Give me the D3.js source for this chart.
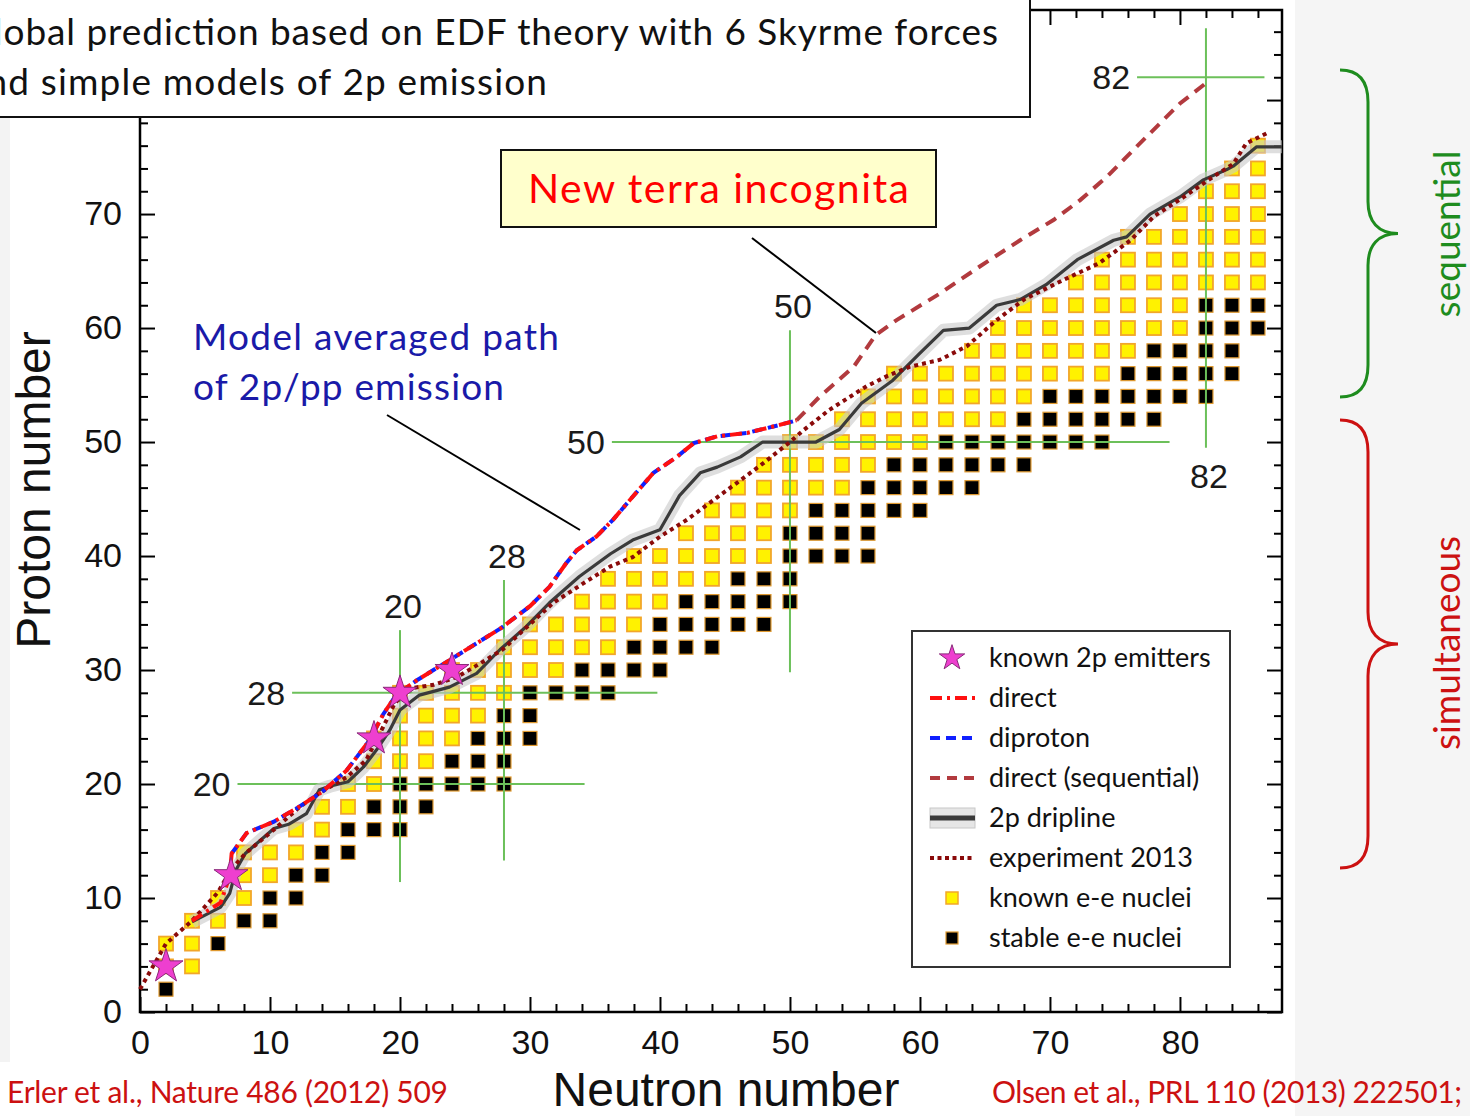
<!DOCTYPE html>
<html>
<head>
<meta charset="utf-8">
<script src="https://cdn.jsdelivr.net/npm/d3@7"></script>
<style>
body { margin: 0; background: #fff; }
svg { display: block; }
</style>
</head>
<body>
<svg id="chart" width="1470" height="1116"></svg>
<script>
// even-even nuclei: [Z, first N, last N]
var knownNuclei = [
    [4, 2, 4], [6, 2, 4], [8, 4, 6], [10, 6, 8], [12, 8, 10], [14, 8, 12],
    [16, 12, 14], [18, 14, 16], [20, 16, 18], [22, 18, 22], [24, 18, 24],
    [26, 20, 26], [28, 20, 28], [30, 24, 32], [32, 28, 36], [34, 30, 38],
    [36, 34, 40], [38, 36, 44], [40, 38, 48], [42, 42, 48], [44, 44, 50],
    [46, 46, 54], [48, 48, 56], [50, 50, 60], [52, 54, 66], [54, 56, 68],
    [56, 58, 74], [58, 64, 76], [60, 66, 80], [62, 68, 80], [64, 72, 86],
    [66, 74, 86], [68, 76, 86], [70, 80, 86], [72, 82, 86], [74, 84, 86],
    [76, 86, 86]
];
var stableNuclei = [
    [2, 2, 2], [6, 6, 6], [8, 8, 10], [10, 10, 12], [12, 12, 14], [14, 14, 16],
    [16, 16, 20], [18, 18, 22], [20, 20, 28], [22, 24, 28], [24, 26, 30],
    [26, 28, 30], [28, 30, 36], [30, 34, 40], [32, 38, 44], [34, 40, 48],
    [36, 42, 50], [38, 46, 50], [40, 50, 56], [42, 50, 56], [44, 52, 60],
    [46, 56, 64], [48, 58, 68], [50, 62, 74], [52, 68, 78], [54, 70, 82],
    [56, 76, 84], [58, 78, 84], [60, 82, 86], [62, 82, 86]
];

// known 2p emitters [N, Z]
var emitters = [[2, 4], [7, 12], [18, 24], [20, 28], [24, 30]];

// paths [N, Z]
var directPath = [[4, 8], [6.2, 9.6], [6.9, 11.9], [7.05, 13.9], [8.2, 15.7], [10.3, 16.7],
    [12.1, 17.9], [14, 19.3], [15.9, 21.2], [17.7, 23.9], [18.7, 26.1], [19.7, 27.8],
    [21.3, 29.1], [24, 31], [27.8, 33.7], [30, 35.6], [31.5, 37.3], [32.8, 39.4],
    [33.6, 40.5], [35.1, 41.7], [36.4, 43.2], [37.9, 45.2], [39.5, 47.3], [41.3, 48.7],
    [42.6, 49.9], [44.4, 50.5], [46.7, 50.8], [49.2, 51.5], [50.5, 51.9]];
var diprotonPath = [[7.05, 13.9], [8.2, 15.7], [10.3, 16.7], [12.1, 17.9], [14, 19.3],
    [15.9, 21.2], [17.7, 23.9], [18.7, 26.1], [19.7, 27.8], [21.3, 29.1], [24, 31],
    [27.8, 33.7], [30, 35.6], [31.5, 37.3], [32.8, 39.4], [33.6, 40.5], [35.1, 41.7],
    [36.4, 43.2], [37.9, 45.2], [39.5, 47.3], [41.3, 48.7], [42.6, 49.9], [44.4, 50.5],
    [46.7, 50.8], [49.2, 51.5], [50.5, 51.9]];
var sequentialPath = [[50.5, 51.9], [52.3, 54], [54.9, 56.6], [56.6, 59.4], [58.2, 60.7],
    [61.5, 63], [64.6, 65.4], [67.7, 67.7], [70.3, 69.5], [72.3, 71.2], [74.4, 73.3],
    [76.4, 75.6], [78.5, 78], [80, 79.7], [82.3, 81.75]];
var experimentPath = [[0, 2], [2, 6], [4, 8], [6, 10.5], [7, 12.5], [8.1, 13.9], [10.3, 16],
    [12.3, 18], [13.8, 19.2], [15.9, 20.6], [17.4, 22.1], [18.7, 25], [19.6, 27.1],
    [20.8, 28.4], [22.6, 28.7], [24.4, 29.4], [26.2, 30.6], [27.9, 31.8], [29.5, 33.5],
    [31.8, 35.9], [34.1, 37.6], [36.2, 39.1], [37.9, 39.9], [40, 41.7], [42.1, 43.2],
    [44.1, 44.9], [45.9, 46.4], [47.9, 48.1], [50, 50], [51, 51], [53, 52.8],
    [55.9, 54.9], [57.5, 55.8], [59.2, 56.6], [61.5, 57.2], [63.6, 58.4], [65.9, 60.7],
    [68, 62.5], [71, 64.2], [73.8, 65.7], [76.2, 67.7], [78, 69.8], [80.3, 71.5],
    [82.6, 73.3], [84.1, 74.4], [85.1, 76.2], [86.7, 77.1]];
var driplinePath = [[4, 7.9], [6.2, 9.2], [6.9, 10.4], [7.4, 12.5], [8.1, 13.9], [10.3, 16.1],
    [11.5, 16.5], [12.8, 17.4], [13.8, 19.5], [14.6, 19.8], [16, 20.2], [17.2, 21.5],
    [18.2, 23], [19.2, 24.7], [20, 26.5], [21.5, 27.8], [23.8, 28.5], [25.9, 29.7],
    [27.7, 31.8], [29.7, 33.8], [31.5, 35.9], [33.8, 38.2], [36.2, 40.2], [37.9, 41.4],
    [40, 42.3], [41.5, 45.3], [43.1, 47.3], [44.4, 47.8], [46.2, 48.7], [47.9, 50],
    [52, 50], [53.8, 51.1], [55.5, 53.4], [57.9, 55.4], [60, 57.8], [61.8, 59.8],
    [63.8, 60], [65.9, 62], [67.7, 62.5], [69.7, 63.8], [72.1, 66], [74.9, 67.7],
    [75.9, 68], [77.7, 70], [80, 71.5], [81.8, 73], [83.6, 73.9], [84.1, 74.2],
    [85.9, 75.9], [87.85, 75.9]];

// magic numbers: vertical [N, Zlow, Zhigh], horizontal [Z, Nlow, Nhigh]
var magicN = [[20, 11.4, 33.5], [28, 13.3, 37.9], [50, 29.8, 59.8], [82, 49.5, 86.3]];
var magicZ = [[20, 7.5, 34.2], [28, 11.7, 39.8], [50, 36.3, 79.2], [82, 76.7, 86.5]];

var majorTicks = [0, 10, 20, 30, 40, 50, 60, 70, 80];
var minorTicks = d3.range(0, 88, 2).filter(function (v) { return v % 10 !== 0; });

var legendLabels = ["known 2p emitters", "direct", "diproton", "direct (sequential)",
    "2p dripline", "experiment 2013", "known e-e nuclei", "stable e-e nuclei"];

var svg = d3.select("#chart");
var x = d3.scaleLinear().domain([0, 87.85]).range([140, 1282]);
var y = d3.scaleLinear().domain([0, 87.9]).range([1012, 10]);
var numFont = "'Liberation Sans', Arial, sans-serif";
var textFont = "Lato, 'Open Sans', sans-serif";

// page background pieces
svg.append("rect").attr("x", 1295).attr("y", 0).attr("width", 175).attr("height", 1116).attr("fill", "#f5f5f5");
svg.append("rect").attr("x", 0).attr("y", 117).attr("width", 10).attr("height", 945).attr("fill", "#f3f3f3");

// axes with inward ticks on all sides
function styleAxis(g) {
    g.select(".domain").remove();
    g.selectAll(".tick line").attr("stroke", "#000").attr("stroke-width", 2);
    g.selectAll("text").attr("font-family", numFont).attr("font-size", 34).attr("fill", "#111");
}
svg.append("g").attr("transform", "translate(140,0)")
    .call(d3.axisLeft(y).tickValues(majorTicks).tickSize(-15).tickPadding(18)).call(styleAxis);
svg.append("g").attr("transform", "translate(140,0)")
    .call(d3.axisLeft(y).tickValues(minorTicks).tickSize(-8).tickFormat("")).call(styleAxis);
svg.append("g").attr("transform", "translate(1282,0)")
    .call(d3.axisRight(y).tickValues(majorTicks).tickSize(-15).tickFormat("")).call(styleAxis);
svg.append("g").attr("transform", "translate(1282,0)")
    .call(d3.axisRight(y).tickValues(minorTicks).tickSize(-8).tickFormat("")).call(styleAxis);
svg.append("g").attr("transform", "translate(0,1012)")
    .call(d3.axisBottom(x).tickValues(majorTicks).tickSize(-15).tickPadding(18)).call(styleAxis);
svg.append("g").attr("transform", "translate(0,1012)")
    .call(d3.axisBottom(x).tickValues(minorTicks).tickSize(-8).tickFormat("")).call(styleAxis);
svg.append("g").attr("transform", "translate(0,10)")
    .call(d3.axisTop(x).tickValues(majorTicks).tickSize(-15).tickFormat("")).call(styleAxis);
svg.append("g").attr("transform", "translate(0,10)")
    .call(d3.axisTop(x).tickValues(minorTicks).tickSize(-8).tickFormat("")).call(styleAxis);

svg.append("rect").attr("x", 140).attr("y", 10).attr("width", 1142).attr("height", 1002)
    .attr("fill", "none").attr("stroke", "#000").attr("stroke-width", 2.5);

// nuclei squares
function expand(rows) {
    var out = [];
    rows.forEach(function (r) {
        for (var n = r[1]; n <= r[2]; n += 2) out.push([n, r[0]]);
    });
    return out;
}
var sq = 14;
svg.append("g").selectAll("rect").data(expand(knownNuclei)).join("rect")
    .attr("x", function (d) { return x(d[0]) - sq / 2; })
    .attr("y", function (d) { return y(d[1]) - sq / 2; })
    .attr("width", sq).attr("height", sq)
    .attr("fill", "#fff200").attr("stroke", "#f2a62a").attr("stroke-width", 1.8);
svg.append("g").selectAll("rect").data(expand(stableNuclei)).join("rect")
    .attr("x", function (d) { return x(d[0]) - sq / 2; })
    .attr("y", function (d) { return y(d[1]) - sq / 2; })
    .attr("width", sq).attr("height", sq)
    .attr("fill", "#000").attr("stroke", "#e09a30").attr("stroke-width", 1.2);

// magic number guide lines
var green = "#6cc05a";
svg.append("g").selectAll("line").data(magicN).join("line")
    .attr("x1", function (d) { return x(d[0]); }).attr("x2", function (d) { return x(d[0]); })
    .attr("y1", function (d) { return y(d[1]); }).attr("y2", function (d) { return y(d[2]); })
    .attr("stroke", green).attr("stroke-width", 2);
svg.append("g").selectAll("line").data(magicZ).join("line")
    .attr("y1", function (d) { return y(d[0]); }).attr("y2", function (d) { return y(d[0]); })
    .attr("x1", function (d) { return x(d[1]); }).attr("x2", function (d) { return x(d[2]); })
    .attr("stroke", green).attr("stroke-width", 2);

var magicLabels = svg.append("g").attr("font-family", numFont).attr("font-size", 34).attr("fill", "#1a1a1a");
magicZ.forEach(function (d) {
    magicLabels.append("text").attr("x", x(d[1]) - 7).attr("y", y(d[0]) + 12)
        .attr("text-anchor", "end").text(d[0]);
});
magicN.forEach(function (d) {
    var below = d[0] === 82;
    magicLabels.append("text").attr("x", x(d[0]) + 3)
        .attr("y", below ? y(d[1]) + 40 : y(d[2]) - 12)
        .attr("text-anchor", "middle").text(d[0]);
});

// model lines
var line = d3.line().x(function (d) { return x(d[0]); }).y(function (d) { return y(d[1]); });
svg.append("path").attr("d", line(driplinePath)).attr("fill", "none")
    .attr("stroke", "#c8c8c8").attr("stroke-opacity", 0.6).attr("stroke-width", 13)
    .attr("stroke-linejoin", "round");
svg.append("path").attr("d", line(driplinePath)).attr("fill", "none")
    .attr("stroke", "#3a3a3a").attr("stroke-width", 3.2).attr("stroke-linejoin", "round");
svg.append("path").attr("d", line(experimentPath)).attr("fill", "none")
    .attr("stroke", "#8a0a0a").attr("stroke-width", 4).attr("stroke-dasharray", "4,4");
svg.append("path").attr("d", line(diprotonPath)).attr("fill", "none")
    .attr("stroke", "#1020ff").attr("stroke-width", 4).attr("stroke-dasharray", "10,6");
svg.append("path").attr("d", line(directPath)).attr("fill", "none")
    .attr("stroke", "#ff1010").attr("stroke-width", 4).attr("stroke-dasharray", "12,5,3,5");
svg.append("path").attr("d", line(sequentialPath)).attr("fill", "none")
    .attr("stroke", "#b23a3e").attr("stroke-width", 4).attr("stroke-dasharray", "12,8");

// known 2p emitters
var star = d3.symbol().type(d3.symbolStar).size(360);
svg.append("g").selectAll("path").data(emitters).join("path")
    .attr("d", star)
    .attr("transform", function (d) { return "translate(" + x(d[0]) + "," + y(d[1]) + ")"; })
    .attr("fill", "#ee3fcf").attr("stroke", "#8a2a7a").attr("stroke-width", 1);

// legend
var lg = svg.append("g");
lg.append("rect").attr("x", 912).attr("y", 631).attr("width", 318).attr("height", 336)
    .attr("fill", "#fff").attr("stroke", "#333").attr("stroke-width", 2);
var ly = d3.scalePoint().domain(legendLabels).range([658, 938]);
lg.selectAll("text").data(legendLabels).join("text")
    .attr("x", 989).attr("y", function (d) { return ly(d) + 9; })
    .attr("font-family", textFont).attr("font-size", 27).attr("fill", "#111")
    .text(function (d) { return d; });
var lx1 = 930, lx2 = 975;
lg.append("path").attr("d", d3.symbol().type(d3.symbolStar).size(200))
    .attr("transform", "translate(952," + ly(legendLabels[0]) + ")")
    .attr("fill", "#ee3fcf").attr("stroke", "#8a2a7a");
function legendLine(label, color, dash, w) {
    lg.append("line").attr("x1", lx1).attr("x2", lx2)
        .attr("y1", ly(label)).attr("y2", ly(label))
        .attr("stroke", color).attr("stroke-width", w).attr("stroke-dasharray", dash);
}
legendLine(legendLabels[1], "#ff1010", "12,5,3,5", 4);
legendLine(legendLabels[2], "#1020ff", "10,6", 4);
legendLine(legendLabels[3], "#b23a3e", "10,7", 4);
lg.append("rect").attr("x", lx1).attr("y", ly(legendLabels[4]) - 10).attr("width", lx2 - lx1).attr("height", 20)
    .attr("fill", "#e6e6e6").attr("stroke", "#c8c8c8");
legendLine(legendLabels[4], "#3a3a3a", null, 5);
legendLine(legendLabels[5], "#8a0a0a", "4,3.5", 4);
lg.append("rect").attr("x", 946).attr("y", ly(legendLabels[6]) - 6).attr("width", 12).attr("height", 12)
    .attr("fill", "#fff200").attr("stroke", "#f2a62a").attr("stroke-width", 1.5);
lg.append("rect").attr("x", 946).attr("y", ly(legendLabels[7]) - 6).attr("width", 12).attr("height", 12)
    .attr("fill", "#000").attr("stroke", "#e09a30").attr("stroke-width", 1.2);

// axis titles
svg.append("text").attr("x", 726).attr("y", 1106).attr("text-anchor", "middle")
    .attr("font-family", numFont).attr("font-size", 48).attr("fill", "#111").text("Neutron number");
svg.append("text").attr("transform", "translate(50,490) rotate(-90)").attr("text-anchor", "middle")
    .attr("font-family", numFont).attr("font-size", 48).attr("fill", "#111").text("Proton number");

// annotations
svg.append("rect").attr("x", -5).attr("y", -5).attr("width", 1035).attr("height", 122)
    .attr("fill", "#fff").attr("stroke", "#111").attr("stroke-width", 2);
var note = svg.append("g").attr("font-family", textFont).attr("font-size", 37).attr("fill", "#111");
note.append("text").attr("x", -34).attr("y", 45).attr("textLength", 1032)
    .text("Global prediction based on EDF theory with 6 Skyrme forces");
note.append("text").attr("x", -33).attr("y", 95).attr("textLength", 580)
    .text("and simple models of 2p emission");

svg.append("line").attr("x1", 387).attr("y1", 415).attr("x2", 580).attr("y2", 530)
    .attr("stroke", "#000").attr("stroke-width", 2);
svg.append("line").attr("x1", 752).attr("y1", 238).attr("x2", 876).attr("y2", 333)
    .attr("stroke", "#000").attr("stroke-width", 2);

var blueNote = svg.append("g").attr("font-family", textFont).attr("font-size", 37).attr("fill", "#1a1aa8");
blueNote.append("text").attr("x", 193).attr("y", 350).attr("textLength", 366).text("Model averaged path");
blueNote.append("text").attr("x", 193).attr("y", 400).attr("textLength", 311).text("of 2p/pp emission");

svg.append("rect").attr("x", 501).attr("y", 150).attr("width", 435).attr("height", 77)
    .attr("fill", "#ffffcc").attr("stroke", "#111").attr("stroke-width", 2);
svg.append("text").attr("x", 528).attr("y", 203).attr("textLength", 381)
    .attr("font-family", textFont).attr("font-size", 41).attr("fill", "#ff0000").text("New terra incognita");

// braces on the right
function brace(top, bottom, color) {
    var mid = (top + bottom) / 2;
    var p = d3.path();
    p.moveTo(1340, top);
    p.bezierCurveTo(1360, top, 1368, top + 12, 1368, top + 32);
    p.lineTo(1368, mid - 32);
    p.bezierCurveTo(1368, mid - 12, 1378, mid, 1398, mid);
    p.bezierCurveTo(1378, mid, 1368, mid + 12, 1368, mid + 32);
    p.lineTo(1368, bottom - 32);
    p.bezierCurveTo(1368, bottom - 12, 1360, bottom, 1340, bottom);
    svg.append("path").attr("d", p.toString()).attr("fill", "none")
        .attr("stroke", color).attr("stroke-width", 3);
}
brace(70, 397, "#1e8c1e");
brace(420, 868, "#cc1111");
svg.append("text").attr("transform", "translate(1460,234) rotate(-90)").attr("text-anchor", "middle")
    .attr("font-family", textFont).attr("font-size", 37).attr("fill", "#1e8c1e").text("sequential");
svg.append("text").attr("transform", "translate(1460,643) rotate(-90)").attr("text-anchor", "middle")
    .attr("font-family", textFont).attr("font-size", 37).attr("fill", "#cc1111").text("simultaneous");

// references
var refs = svg.append("g").attr("font-family", textFont).attr("font-size", 30).attr("fill", "#cc1111");
refs.append("text").attr("x", 7).attr("y", 1103).attr("textLength", 441).text("Erler et al., Nature 486 (2012) 509");
refs.append("text").attr("x", 992).attr("y", 1103).attr("textLength", 470).text("Olsen et al., PRL 110 (2013) 222501;");
</script>
</body>
</html>
